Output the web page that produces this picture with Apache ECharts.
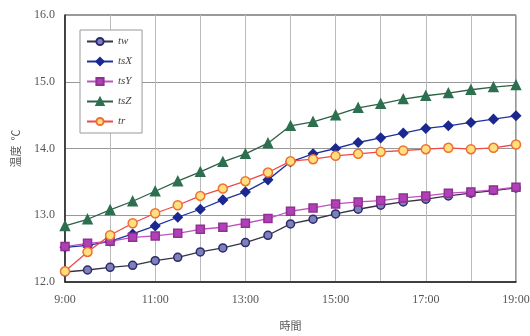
<!DOCTYPE html>
<html><head><meta charset="utf-8">
<script src="https://cdn.jsdelivr.net/npm/echarts@6/dist/echarts.min.js"></script>
<style>html,body{margin:0;padding:0;background:#fff}#c{width:530px;height:336px}</style>
</head><body><div id="c"></div>
<script>
const categories = ["9:00","9:30","10:00","10:30","11:00","11:30","12:00","12:30","13:00","13:30","14:00","14:30","15:00","15:30","16:00","16:30","17:00","17:30","18:00","18:30","19:00"];
const tw  = [12.15,12.18,12.22,12.25,12.32,12.37,12.45,12.51,12.59,12.70,12.87,12.94,13.02,13.09,13.15,13.20,13.24,13.29,13.33,13.37,13.41];
const tsX = [12.52,12.55,12.61,12.72,12.84,12.97,13.09,13.23,13.35,13.53,13.80,13.92,14.00,14.09,14.16,14.23,14.30,14.34,14.39,14.44,14.49];
const tsY = [12.53,12.58,12.61,12.67,12.69,12.73,12.79,12.82,12.88,12.95,13.06,13.11,13.17,13.20,13.22,13.26,13.29,13.33,13.35,13.38,13.42];
const tsZ = [12.84,12.94,13.08,13.21,13.36,13.51,13.65,13.80,13.92,14.08,14.34,14.40,14.50,14.61,14.67,14.74,14.79,14.83,14.88,14.92,14.95];
const tr  = [12.16,12.45,12.70,12.88,13.03,13.15,13.29,13.40,13.51,13.64,13.81,13.84,13.89,13.92,13.95,13.97,13.99,14.01,13.99,14.01,14.06];
const yTicks = [12,13,14,15,16];

const font = "'Liberation Serif','DejaVu Serif',serif";
function s(name, data, symbol, lineColor, fill, border, size){
  return {name, type:'line', data, symbol, symbolSize:size,
    lineStyle:{color:lineColor, width:1.3},
    itemStyle:{color:fill, borderColor:border, borderWidth:1.5},
    emphasis:{disabled:true}};
}
const chart = echarts.init(document.getElementById('c'));
chart.setOption({
  animation:false,
  backgroundColor:'#fff',
  grid:{left:65, right:14, top:15, bottom:54, show:true, borderColor:'#333', borderWidth:1,
    containLabel:false, outerBoundsMode:'none'},
  legend:{orient:'vertical', left:80, top:30, itemGap:9, itemWidth:26, itemHeight:9,
    padding:[6,10,6,6], borderColor:'#999', borderWidth:1, backgroundColor:'#fff',
    textStyle:{fontFamily:font, fontStyle:'italic', fontSize:11, color:'#444'},
    data:['tw','tsX','tsY','tsZ','tr']},
  xAxis:{type:'category', data:categories, boundaryGap:false,
    name:'時間', nameLocation:'middle', nameGap:38,
    nameTextStyle:{fontFamily:"'Noto Sans CJK JP'", fontSize:11, color:'#555'},
    axisLine:{lineStyle:{color:'#222', width:1.5}},
    axisTick:{show:false},
    axisLabel:{interval:3, margin:12, fontFamily:font, fontSize:12, color:'#555'},
    splitLine:{show:true, interval:1, lineStyle:{color:'#bbb', width:1}}},
  yAxis:{type:'value', min:yTicks[0], max:yTicks[yTicks.length-1], interval:1,
    name:'温度  ℃', nameLocation:'middle', nameGap:44,
    nameTextStyle:{fontFamily:"'Noto Sans CJK JP'", fontSize:11, color:'#555'},
    axisLine:{show:true, lineStyle:{color:'#222', width:1.5}},
    axisTick:{show:false},
    axisLabel:{margin:10, fontFamily:font, fontSize:12, color:'#555', formatter:v=>v.toFixed(1)},
    splitLine:{show:true, lineStyle:{color:'#999', width:1}}},
  series:[
    s('tw', tw, 'circle', '#333344', '#8080b8', '#2a2a70', 8),
    s('tsX', tsX, 'diamond', '#2030a0', '#1a2890', '#1a2890', 9),
    s('tsY', tsY, 'rect', '#c050c0', '#b040b8', '#903090', 8),
    s('tsZ', tsZ, 'triangle', '#2f5f45', '#2d7050', '#2d7050', 9),
    s('tr', tr, 'circle', '#f04848', '#ffe080', '#f07030', 9)
  ]
});
</script></body></html>
